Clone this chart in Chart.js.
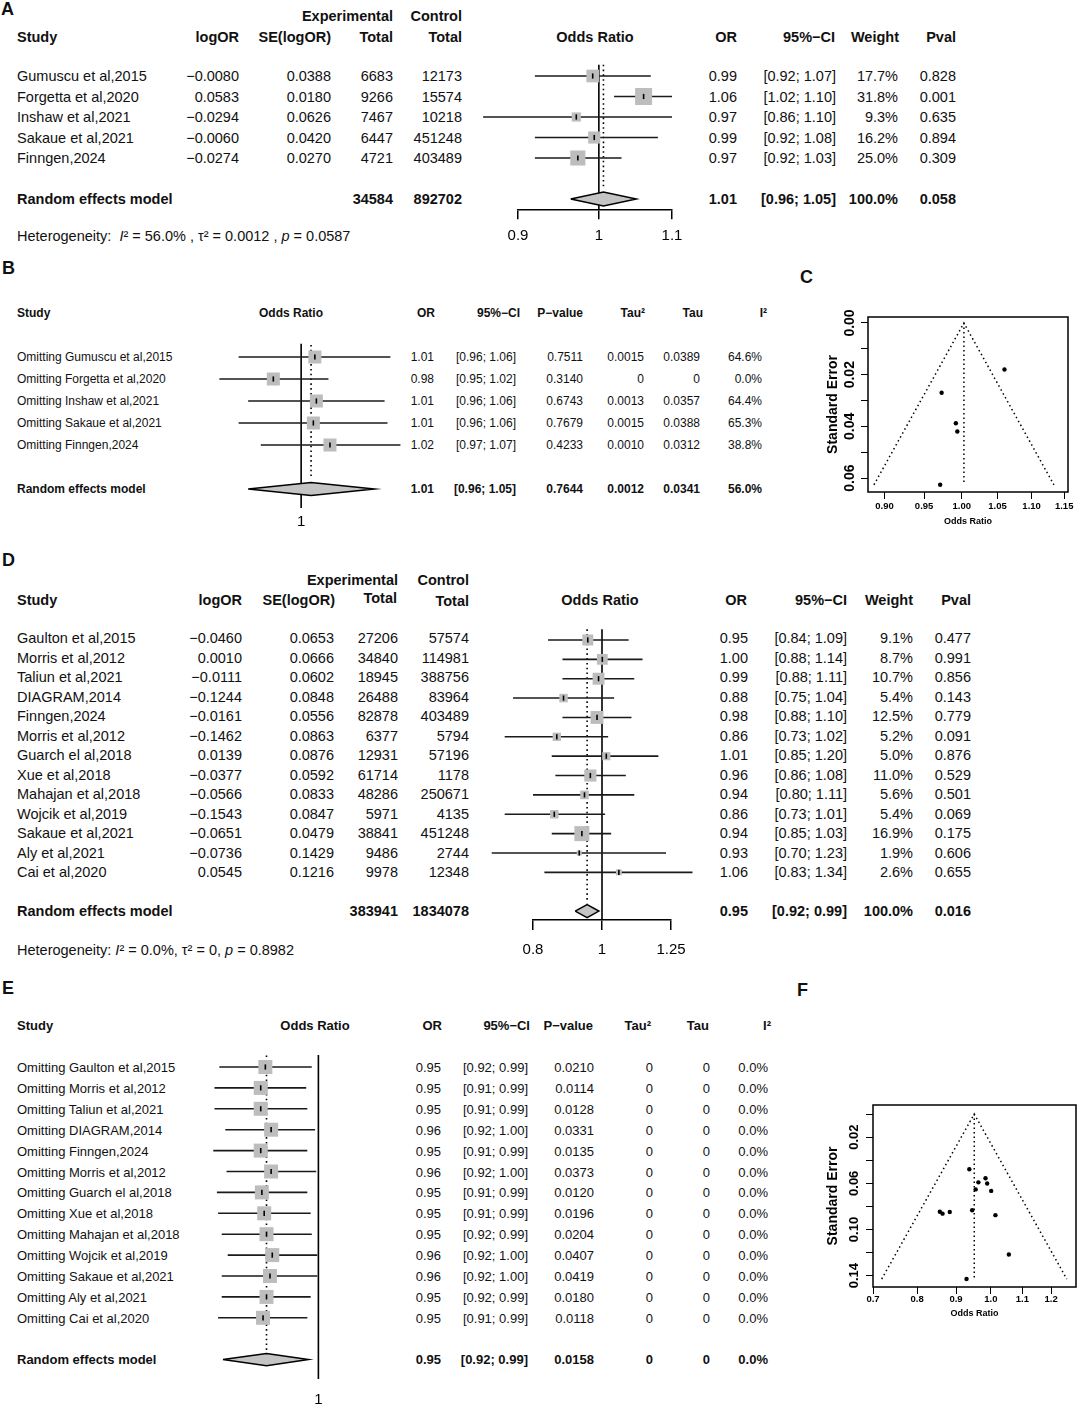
<!DOCTYPE html>
<html>
<head>
<meta charset="utf-8">
<script src="https://cdn.jsdelivr.net/npm/chart.js@4.4.1/dist/chart.umd.min.js"></script>
<style>
  body { margin: 0; background: #fff; }
  #page { position: relative; width: 1080px; height: 1408px; overflow: hidden;
          font-family: "Liberation Sans", Arial, sans-serif; color: #111; background: #fff; }
  .t { position: absolute; white-space: pre; line-height: 1; }
  canvas { position: absolute; }
</style>
</head>
<body>
<div id="page"></div>
<script>
// ---------- panel A : meta-analysis ----------
const studiesA = ["Gumuscu et al,2015", "Forgetta et al,2020", "Inshaw et al,2021", "Sakaue et al,2021", "Finngen,2024"];
const logOrA = [-0.0080, 0.0583, -0.0294, -0.0060, -0.0274];
const seA = [0.0388, 0.0180, 0.0626, 0.0420, 0.0270];
const expTotalA = [6683, 9266, 7467, 6447, 4721];
const ctrlTotalA = [12173, 15574, 10218, 451248, 403489];
const orA = [0.99, 1.06, 0.97, 0.99, 0.97];
const ciLowA = [0.92, 1.02, 0.86, 0.92, 0.92];
const ciHighA = [1.07, 1.10, 1.10, 1.08, 1.03];
const weightA = [17.7, 31.8, 9.3, 16.2, 25.0];
const pvalA = ["0.828", "0.001", "0.635", "0.894", "0.309"];
const pooledTextA = ["34584", "892702", "1.01", "[0.96; 1.05]", "100.0%", "0.058"];
const pooledEstA = [1.006, 0.964, 1.050];   // estimate, low, high
const axisTicksA = [0.9, 1, 1.1];

// ---------- panel B : leave-one-out ----------
const studiesB = ["Omitting Gumuscu et al,2015", "Omitting Forgetta et al,2020", "Omitting Inshaw et al,2021", "Omitting Sakaue et al,2021", "Omitting Finngen,2024"];
const orTextB = ["1.01", "0.98", "1.01", "1.01", "1.02"];
const ciTextB = ["[0.96; 1.06]", "[0.95; 1.02]", "[0.96; 1.06]", "[0.96; 1.06]", "[0.97; 1.07]"];
const pTextB = ["0.7511", "0.3140", "0.6743", "0.7679", "0.4233"];
const tau2B = ["0.0015", "0", "0.0013", "0.0015", "0.0010"];
const tauB = ["0.0389", "0", "0.0357", "0.0388", "0.0312"];
const i2B = ["64.6%", "0.0%", "64.4%", "65.3%", "38.8%"];
const pooledTextB = ["1.01", "[0.96; 1.05]", "0.7644", "0.0012", "0.0341", "56.0%"];
const estB = [1.009, 0.982, 1.010, 1.008, 1.019];
const lowB = [0.960, 0.948, 0.966, 0.960, 0.974];
const highB = [1.060, 1.018, 1.056, 1.058, 1.067];
const pooledEstB = [1.0065, 0.966, 1.049];

// ---------- panel C : funnel of A ----------
const funnelTicksC = [0.90, 0.95, 1.00, 1.05, 1.10, 1.15];
const seTicksC = [0, 0.01, 0.02, 0.03, 0.04, 0.05, 0.06];
const seLabelsC = ["0.00", "", "0.02", "", "0.04", "", "0.06"];
const funnelCenterC = 1.003;

// ---------- panel D : meta-analysis ----------
const studiesD = ["Gaulton et al,2015", "Morris et al,2012", "Taliun et al,2021", "DIAGRAM,2014", "Finngen,2024", "Morris et al,2012", "Guarch el al,2018", "Xue et al,2018", "Mahajan et al,2018", "Wojcik et al,2019", "Sakaue et al,2021", "Aly et al,2021", "Cai et al,2020"];
const logOrD = [-0.0460, 0.0010, -0.0111, -0.1244, -0.0161, -0.1462, 0.0139, -0.0377, -0.0566, -0.1543, -0.0651, -0.0736, 0.0545];
const seD = [0.0653, 0.0666, 0.0602, 0.0848, 0.0556, 0.0863, 0.0876, 0.0592, 0.0833, 0.0847, 0.0479, 0.1429, 0.1216];
const expTotalD = [27206, 34840, 18945, 26488, 82878, 6377, 12931, 61714, 48286, 5971, 38841, 9486, 9978];
const ctrlTotalD = [57574, 114981, 388756, 83964, 403489, 5794, 57196, 1178, 250671, 4135, 451248, 2744, 12348];
const orD = [0.95, 1.00, 0.99, 0.88, 0.98, 0.86, 1.01, 0.96, 0.94, 0.86, 0.94, 0.93, 1.06];
const ciLowD = [0.84, 0.88, 0.88, 0.75, 0.88, 0.73, 0.85, 0.86, 0.80, 0.73, 0.85, 0.70, 0.83];
const ciHighD = [1.09, 1.14, 1.11, 1.04, 1.10, 1.02, 1.20, 1.08, 1.11, 1.01, 1.03, 1.23, 1.34];
const weightD = [9.1, 8.7, 10.7, 5.4, 12.5, 5.2, 5.0, 11.0, 5.6, 5.4, 16.9, 1.9, 2.6];
const pvalD = ["0.477", "0.991", "0.856", "0.143", "0.779", "0.091", "0.876", "0.529", "0.501", "0.069", "0.175", "0.606", "0.655"];
const pooledTextD = ["383941", "1834078", "0.95", "[0.92; 0.99]", "100.0%", "0.016"];
const pooledEstD = [0.953, 0.917, 0.990];
const axisTicksD = [0.8, 1, 1.25];

// ---------- panel E : leave-one-out ----------
const studiesE = ["Omitting Gaulton et al,2015", "Omitting Morris et al,2012", "Omitting Taliun et al,2021", "Omitting DIAGRAM,2014", "Omitting Finngen,2024", "Omitting Morris et al,2012", "Omitting Guarch el al,2018", "Omitting Xue et al,2018", "Omitting Mahajan et al,2018", "Omitting Wojcik et al,2019", "Omitting Sakaue et al,2021", "Omitting Aly et al,2021", "Omitting Cai et al,2020"];
const orTextE = ["0.95", "0.95", "0.95", "0.96", "0.95", "0.96", "0.95", "0.95", "0.95", "0.96", "0.96", "0.95", "0.95"];
const ciTextE = ["[0.92; 0.99]", "[0.91; 0.99]", "[0.91; 0.99]", "[0.92; 1.00]", "[0.91; 0.99]", "[0.92; 1.00]", "[0.91; 0.99]", "[0.91; 0.99]", "[0.92; 0.99]", "[0.92; 1.00]", "[0.92; 1.00]", "[0.92; 0.99]", "[0.91; 0.99]"];
const pTextE = ["0.0210", "0.0114", "0.0128", "0.0331", "0.0135", "0.0373", "0.0120", "0.0196", "0.0204", "0.0407", "0.0419", "0.0180", "0.0118"];
const tau2E = ["0", "0", "0", "0", "0", "0", "0", "0", "0", "0", "0", "0", "0"];
const tauE = ["0", "0", "0", "0", "0", "0", "0", "0", "0", "0", "0", "0", "0"];
const i2E = ["0.0%", "0.0%", "0.0%", "0.0%", "0.0%", "0.0%", "0.0%", "0.0%", "0.0%", "0.0%", "0.0%", "0.0%", "0.0%"];
const pooledTextE = ["0.95", "[0.92; 0.99]", "0.0158", "0", "0", "0.0%"];
const estE = [0.953, 0.949, 0.949, 0.958, 0.949, 0.958, 0.950, 0.952, 0.954, 0.959, 0.957, 0.954, 0.951];
const lowE = [0.914, 0.910, 0.910, 0.919, 0.909, 0.920, 0.912, 0.913, 0.916, 0.921, 0.916, 0.916, 0.913];
const highE = [0.994, 0.989, 0.990, 0.997, 0.990, 0.998, 0.990, 0.993, 0.994, 0.999, 0.999, 0.993, 0.990];
const pooledEstE = [0.954, 0.917, 0.991];

// ---------- panel F : funnel of D ----------
const funnelTicksF = [0.7, 0.8, 0.9, 1.0, 1.1, 1.2];
const seTicksF = [0, 0.02, 0.04, 0.06, 0.08, 0.10, 0.12, 0.14];
const seLabelsF = ["", "0.02", "", "0.06", "", "0.10", "", "0.14"];
const funnelCenterF = 0.951;

// ------------------------------------------------------------
const FONT = '"Liberation Sans", Arial, sans-serif';
Chart.defaults.font.family = FONT;
Chart.defaults.color = '#000';

const page = document.getElementById('page');

function put(txt, x, y, size, align, bold, html) {
  const d = document.createElement('div');
  d.className = 't';
  d.style.fontSize = size + 'px';
  if (bold) d.style.fontWeight = 'bold';
  if (html) d.innerHTML = txt; else d.textContent = txt;
  d.style.left = x + 'px';
  d.style.top = y + 'px';
  const tx = align === 'right' ? '-100%' : (align === 'center' ? '-50%' : '0');
  d.style.transform = 'translate(' + tx + ',-50%)';
  page.appendChild(d);
}

function signed(v, d) {
  return (v < 0 ? '\u2212' : '') + Math.abs(v).toFixed(d);
}
function ci(lo, hi) {
  return '[' + lo.toFixed(2) + '; ' + hi.toFixed(2) + ']';
}

function makeCanvas(x, y, w, h) {
  const c = document.createElement('canvas');
  c.width = w; c.height = h;
  c.style.left = x + 'px'; c.style.top = y + 'px';
  c.style.width = w + 'px'; c.style.height = h + 'px';
  page.appendChild(c);
  return c;
}

// panel letters
put('A', 1, 9, 18, 'left', true);
put('B', 2, 268, 18, 'left', true);
put('C', 800, 277, 18, 'left', true);
put('D', 2, 560, 18, 'left', true);
put('E', 2, 988, 18, 'left', true);
put('F', 797, 990, 18, 'left', true);

// ---------- text of panel A ----------
const fA = 14.5;
put('Experimental', 393, 16, fA, 'right', true);
put('Control', 462, 16, fA, 'right', true);
[['Study', 17, 'left'], ['logOR', 239, 'right'], ['SE(logOR)', 331, 'right'], ['Total', 393, 'right'],
 ['Total', 462, 'right'], ['Odds Ratio', 595, 'center'], ['OR', 737, 'right'], ['95%\u2212CI', 835, 'right'],
 ['Weight', 899, 'right'], ['Pval', 956, 'right']].forEach(h => put(h[0], h[1], 37, fA, h[2], true));
studiesA.forEach((s, i) => {
  const y = 76 + 20.5 * i;
  put(s, 17, y, fA, 'left');
  put(signed(logOrA[i], 4), 239, y, fA, 'right');
  put(seA[i].toFixed(4), 331, y, fA, 'right');
  put(String(expTotalA[i]), 393, y, fA, 'right');
  put(String(ctrlTotalA[i]), 462, y, fA, 'right');
  put(orA[i].toFixed(2), 737, y, fA, 'right');
  put(ci(ciLowA[i], ciHighA[i]), 836, y, fA, 'right');
  put(weightA[i].toFixed(1) + '%', 898, y, fA, 'right');
  put(pvalA[i], 956, y, fA, 'right');
});
put('Random effects model', 17, 199, fA, 'left', true);
[393, 462, 737, 836, 898, 956].forEach((x, k) => put(pooledTextA[k], x, 199, fA, 'right', true));
put('Heterogeneity:  <i>I</i>\u00b2 = 56.0% , \u03c4\u00b2 = 0.0012 , <i>p</i> = 0.0587', 17, 236, fA, 'left', false, true);

// ---------- text of panel B ----------
const fB = 12;
const colsB = [434, 516, 583, 644, 700, 762];
put('Study', 17, 313, fB, 'left', true);
put('Odds Ratio', 291, 313, fB, 'center', true);
['OR', '95%\u2212CI', 'P\u2212value', 'Tau\u00b2', 'Tau', 'I\u00b2'].forEach((h, k) =>
  put(h, [435, 520, 583, 645, 703, 767][k], 313, fB, 'right', true));
studiesB.forEach((s, i) => {
  const y = 357 + 22 * i;
  put(s, 17, y, fB, 'left');
  [orTextB, ciTextB, pTextB, tau2B, tauB, i2B].forEach((col, k) => put(col[i], colsB[k], y, fB, 'right'));
});
put('Random effects model', 17, 489, fB, 'left', true);
colsB.forEach((x, k) => put(pooledTextB[k], x, 489, fB, 'right', true));

// ---------- text of panel D ----------
const fD = 14.5;
put('Experimental', 398, 580, fD, 'right', true);
put('Control', 469, 580, fD, 'right', true);
[['Study', 17, 'left', 600], ['logOR', 242, 'right', 600], ['SE(logOR)', 335, 'right', 600], ['Total', 397, 'right', 598],
 ['Total', 469, 'right', 601], ['Odds Ratio', 600, 'center', 600], ['OR', 747, 'right', 600], ['95%\u2212CI', 847, 'right', 600],
 ['Weight', 913, 'right', 600], ['Pval', 971, 'right', 600]].forEach(h => put(h[0], h[1], h[3], fD, h[2], true));
studiesD.forEach((s, i) => {
  const y = 638 + 19.5 * i;
  put(s, 17, y, fD, 'left');
  put(signed(logOrD[i], 4), 242, y, fD, 'right');
  put(seD[i].toFixed(4), 334, y, fD, 'right');
  put(String(expTotalD[i]), 398, y, fD, 'right');
  put(String(ctrlTotalD[i]), 469, y, fD, 'right');
  put(orD[i].toFixed(2), 748, y, fD, 'right');
  put(ci(ciLowD[i], ciHighD[i]), 847, y, fD, 'right');
  put(weightD[i].toFixed(1) + '%', 913, y, fD, 'right');
  put(pvalD[i], 971, y, fD, 'right');
});
put('Random effects model', 17, 911, fD, 'left', true);
[398, 469, 748, 847, 913, 971].forEach((x, k) => put(pooledTextD[k], x, 911, fD, 'right', true));
put('Heterogeneity: <i>I</i>\u00b2 = 0.0%, \u03c4\u00b2 = 0, <i>p</i> = 0.8982', 17, 950, fD, 'left', false, true);

// ---------- text of panel E ----------
const fE = 13;
const colsE = [441, 528, 594, 653, 710, 768];
put('Study', 17, 1025, fE, 'left', true);
put('Odds Ratio', 315, 1025, fE, 'center', true);
['OR', '95%\u2212CI', 'P\u2212value', 'Tau\u00b2', 'Tau', 'I\u00b2'].forEach((h, k) =>
  put(h, [442, 530, 593, 651, 709, 771][k], 1025, fE, 'right', true));
studiesE.forEach((s, i) => {
  const y = 1067 + 20.9 * i;
  put(s, 17, y, fE, 'left');
  [orTextE, ciTextE, pTextE, tau2E, tauE, i2E].forEach((col, k) => put(col[i], colsE[k], y, fE, 'right'));
});
put('Random effects model', 17, 1359, fE, 'left', true);
colsE.forEach((x, k) => put(pooledTextE[k], x, 1359, fE, 'right', true));

// ---------- forest plots ----------
function forestChart(o) {
  const cv = makeCanvas(o.left, o.top, o.width, o.height);
  const n = o.est.length;
  const pts = o.est.map((v, i) => ({ x: v, y: i }));
  const [pe, pl, ph] = o.pooled;
  const r = o.poolRow, h = o.dh;
  const ds = [];
  ds.push({ data: pts, pointStyle: 'line', pointRotation: 90, pointRadius: 2.6,
            pointBorderWidth: 1.6, pointBorderColor: '#000', order: 0 });
  ds.push({ data: pts, pointStyle: 'rect', pointRadius: o.sides.map(s => s / Math.SQRT2),
            pointBackgroundColor: '#bdbdbd', pointBorderWidth: 0, order: 1 });
  ds.push({ data: [{ x: pl, y: r }, { x: pe, y: r - h }, { x: ph, y: r }, { x: pe, y: r + h }, { x: pl, y: r }],
            showLine: true, fill: 'shape', backgroundColor: '#c4c4c4', borderColor: '#000',
            borderWidth: 1.5, pointRadius: 0, order: 2 });
  for (let i = 0; i < n; i++) {
    ds.push({ data: [{ x: o.lo[i], y: i }, { x: o.hi[i], y: i }], showLine: true,
              borderColor: '#1a1a1a', borderWidth: 1.6, pointRadius: 0, order: 3 });
  }
  ds.push({ data: [{ x: pe, y: -0.55 }, { x: pe, y: o.dotTo }], showLine: true, borderDash: [1.6, 3.2],
            borderColor: '#000', borderWidth: 1.6, pointRadius: 0, order: 4 });
  ds.push({ data: [{ x: 1, y: o.refFrom }, { x: 1, y: o.refTo }], showLine: true,
            borderColor: '#000', borderWidth: 1.6, pointRadius: 0, order: 5 });
  ds.forEach(d => { d.clip = false; });

  new Chart(cv, {
    type: 'scatter',
    data: { datasets: ds },
    options: {
      responsive: false, animation: false, events: [],
      layout: { padding: { left: o.padL, right: o.padR, top: o.padT, bottom: 0 } },
      plugins: { legend: { display: false }, tooltip: { enabled: false } },
      scales: {
        x: {
          type: 'logarithmic', min: o.xMin, max: o.xMax,
          afterBuildTicks: s => { s.ticks = o.ticks.map(v => ({ value: v })); },
          afterFit: s => { s.height = o.axisH; },
          ticks: { autoSkip: false, maxRotation: 0, padding: o.tickPad, font: { size: 15 }, color: '#000',
                   callback: v => String(v) },
          grid: { display: o.axisLine, drawOnChartArea: false, drawTicks: o.axisLine, tickLength: 10,
                  color: '#000', lineWidth: 1.5 },
          border: { display: o.axisLine, color: '#000', width: 1.5 }
        },
        y: { type: 'linear', reverse: true, min: -1, max: o.yMax, display: false }
      }
    }
  });
}

const maxWA = Math.max(...weightA);
forestChart({
  left: 440, top: 40, width: 300, height: 215, padL: 78, padR: 68, padT: 15.5, axisH: 45.75,
  xMin: 0.9, xMax: 1.1, ticks: axisTicksA, axisLine: true, tickPad: 7.5, yMax: 6.5,
  est: logOrA.map(v => Math.exp(v)), lo: ciLowA, hi: ciHighA,
  sides: weightA.map(w => 17 * Math.sqrt(w / maxWA)),
  pooled: pooledEstA, poolRow: 6, dh: 0.34, dotTo: 5.5, refFrom: -0.55, refTo: 6.5
});

forestChart({
  left: 180, top: 320, width: 250, height: 215, padL: 10, padR: 10, padT: 15, axisH: 24,
  xMin: 0.9347, xMax: 1.0807, ticks: [1], axisLine: false, tickPad: 2, yMax: 7,
  est: estB, lo: lowB, hi: highB, sides: estB.map(() => 13),
  pooled: pooledEstB, poolRow: 6, dh: 0.29, dotTo: 5.5, refFrom: -0.6, refTo: 6.86
});

const maxWD = Math.max(...weightD);
forestChart({
  left: 430, top: 610, width: 330, height: 350, padL: 103, padR: 89, padT: 8.5, axisH: 40,
  xMin: 0.8, xMax: 1.25, ticks: axisTicksD, axisLine: true, tickPad: 11, yMax: 14.46,
  est: logOrD.map(v => Math.exp(v)), lo: ciLowD, hi: ciHighD,
  sides: weightD.map(w => 15 * Math.sqrt(w / maxWD)),
  pooled: pooledEstD, poolRow: 14, dh: 0.34, dotTo: 13.6, refFrom: -0.55, refTo: 14.46
});

forestChart({
  left: 180, top: 1030, width: 170, height: 378, padL: 10, padR: 10, padT: 16.1, axisH: 27.5,
  xMin: 0.8925, xMax: 1.0198, ticks: [1], axisLine: false, tickPad: 10.5, yMax: 15,
  est: estE, lo: lowE, hi: highE, sides: estE.map(() => 14),
  pooled: pooledEstE, poolRow: 14, dh: 0.29, dotTo: 13.55, refFrom: -0.57, refTo: 14.93
});

// ---------- funnel plots ----------
const boxPlugin = {
  id: 'box',
  afterDraw(chart) {
    const { ctx, chartArea: a } = chart;
    ctx.save();
    ctx.strokeStyle = '#000';
    ctx.lineWidth = 1.5;
    ctx.strokeRect(a.left, a.top, a.right - a.left, a.bottom - a.top);
    ctx.restore();
  }
};

function funnelChart(o) {
  const cv = makeCanvas(o.left, o.top, o.width, o.height);
  const seMax = Math.max(...o.se);
  const z = 1.96, c = o.center;
  const ds = [
    { data: o.logOr.map((v, i) => ({ x: Math.exp(v), y: o.se[i] })), pointRadius: 2.2,
      pointBackgroundColor: '#000', pointBorderWidth: 0, order: 0 },
    { data: [{ x: c * Math.exp(-z * seMax), y: seMax }, { x: c, y: 0 }, { x: c * Math.exp(z * seMax), y: seMax }],
      showLine: true, borderDash: [1.5, 3], borderColor: '#000', borderWidth: 1.5, pointRadius: 0, order: 1 },
    { data: [{ x: c, y: 0 }, { x: c, y: seMax }], showLine: true, borderDash: [1.5, 3],
      borderColor: '#000', borderWidth: 1.5, pointRadius: 0, order: 2 }
  ];
  new Chart(cv, {
    type: 'scatter',
    data: { datasets: ds },
    plugins: [boxPlugin],
    options: {
      responsive: false, animation: false, events: [],
      layout: { padding: { left: 0, right: o.padR, top: o.padT, bottom: 0 } },
      plugins: { legend: { display: false }, tooltip: { enabled: false } },
      scales: {
        x: {
          type: 'logarithmic', min: o.xMin, max: o.xMax,
          afterBuildTicks: s => { s.ticks = o.xTicks.map(v => ({ value: v })); },
          afterFit: s => { s.height = o.axisH; },
          ticks: { autoSkip: false, maxRotation: 0, padding: o.xPad, font: { size: 9.5, weight: 'bold' },
                   color: '#000', callback: v => v.toFixed(o.dec) },
          grid: { drawOnChartArea: false, tickLength: 7, color: '#000', lineWidth: 1 },
          border: { display: false },
          title: { display: true, text: 'Odds Ratio', color: '#000', font: { size: 9, weight: 'bold' },
                   padding: { top: 0, bottom: o.xTitlePad } }
        },
        y: {
          type: 'linear', reverse: true, min: o.yMin, max: o.yMax,
          afterBuildTicks: s => { s.ticks = o.yTicks.map(v => ({ value: v })); },
          afterFit: s => { s.width = o.axisW; },
          ticks: { autoSkip: false, minRotation: 90, maxRotation: 90, crossAlign: 'center',
                   padding: o.yPad, font: { size: o.yFont, weight: 'bold' }, color: '#000',
                   callback: (v, i) => o.yLabels[i] },
          grid: { drawOnChartArea: false, tickLength: 7, color: '#000', lineWidth: 1 },
          border: { display: false },
          title: { display: true, text: 'Standard Error', color: '#000', font: { size: 14, weight: 'bold' },
                   padding: { top: o.yTitlePad, bottom: 0 } }
        }
      }
    }
  });
}

funnelChart({
  left: 800, top: 290, width: 280, height: 245, padR: 12, padT: 27, axisH: 43, axisW: 68,
  xMin: 0.882, xMax: 1.156, xTicks: funnelTicksC, dec: 2, xPad: 2, xTitlePad: 8,
  yMin: -0.00232, yMax: 0.0654, yTicks: seTicksC, yLabels: seLabelsC, yPad: -3, yFont: 14, yTitlePad: 24.6,
  logOr: logOrA, se: seA, center: funnelCenterC
});

funnelChart({
  left: 800, top: 1080, width: 280, height: 260, padR: 2, padT: 25, axisH: 53, axisW: 73,
  xMin: 0.7, xMax: 1.294, xTicks: funnelTicksF, dec: 1, xPad: 0, xTitlePad: 20.6,
  yMin: -0.0078, yMax: 0.1498, yTicks: seTicksF, yLabels: seLabelsF, yPad: -1.5, yFont: 13, yTitlePad: 25,
  logOr: logOrD, se: seD, center: funnelCenterF
});
</script>
</body>
</html>
